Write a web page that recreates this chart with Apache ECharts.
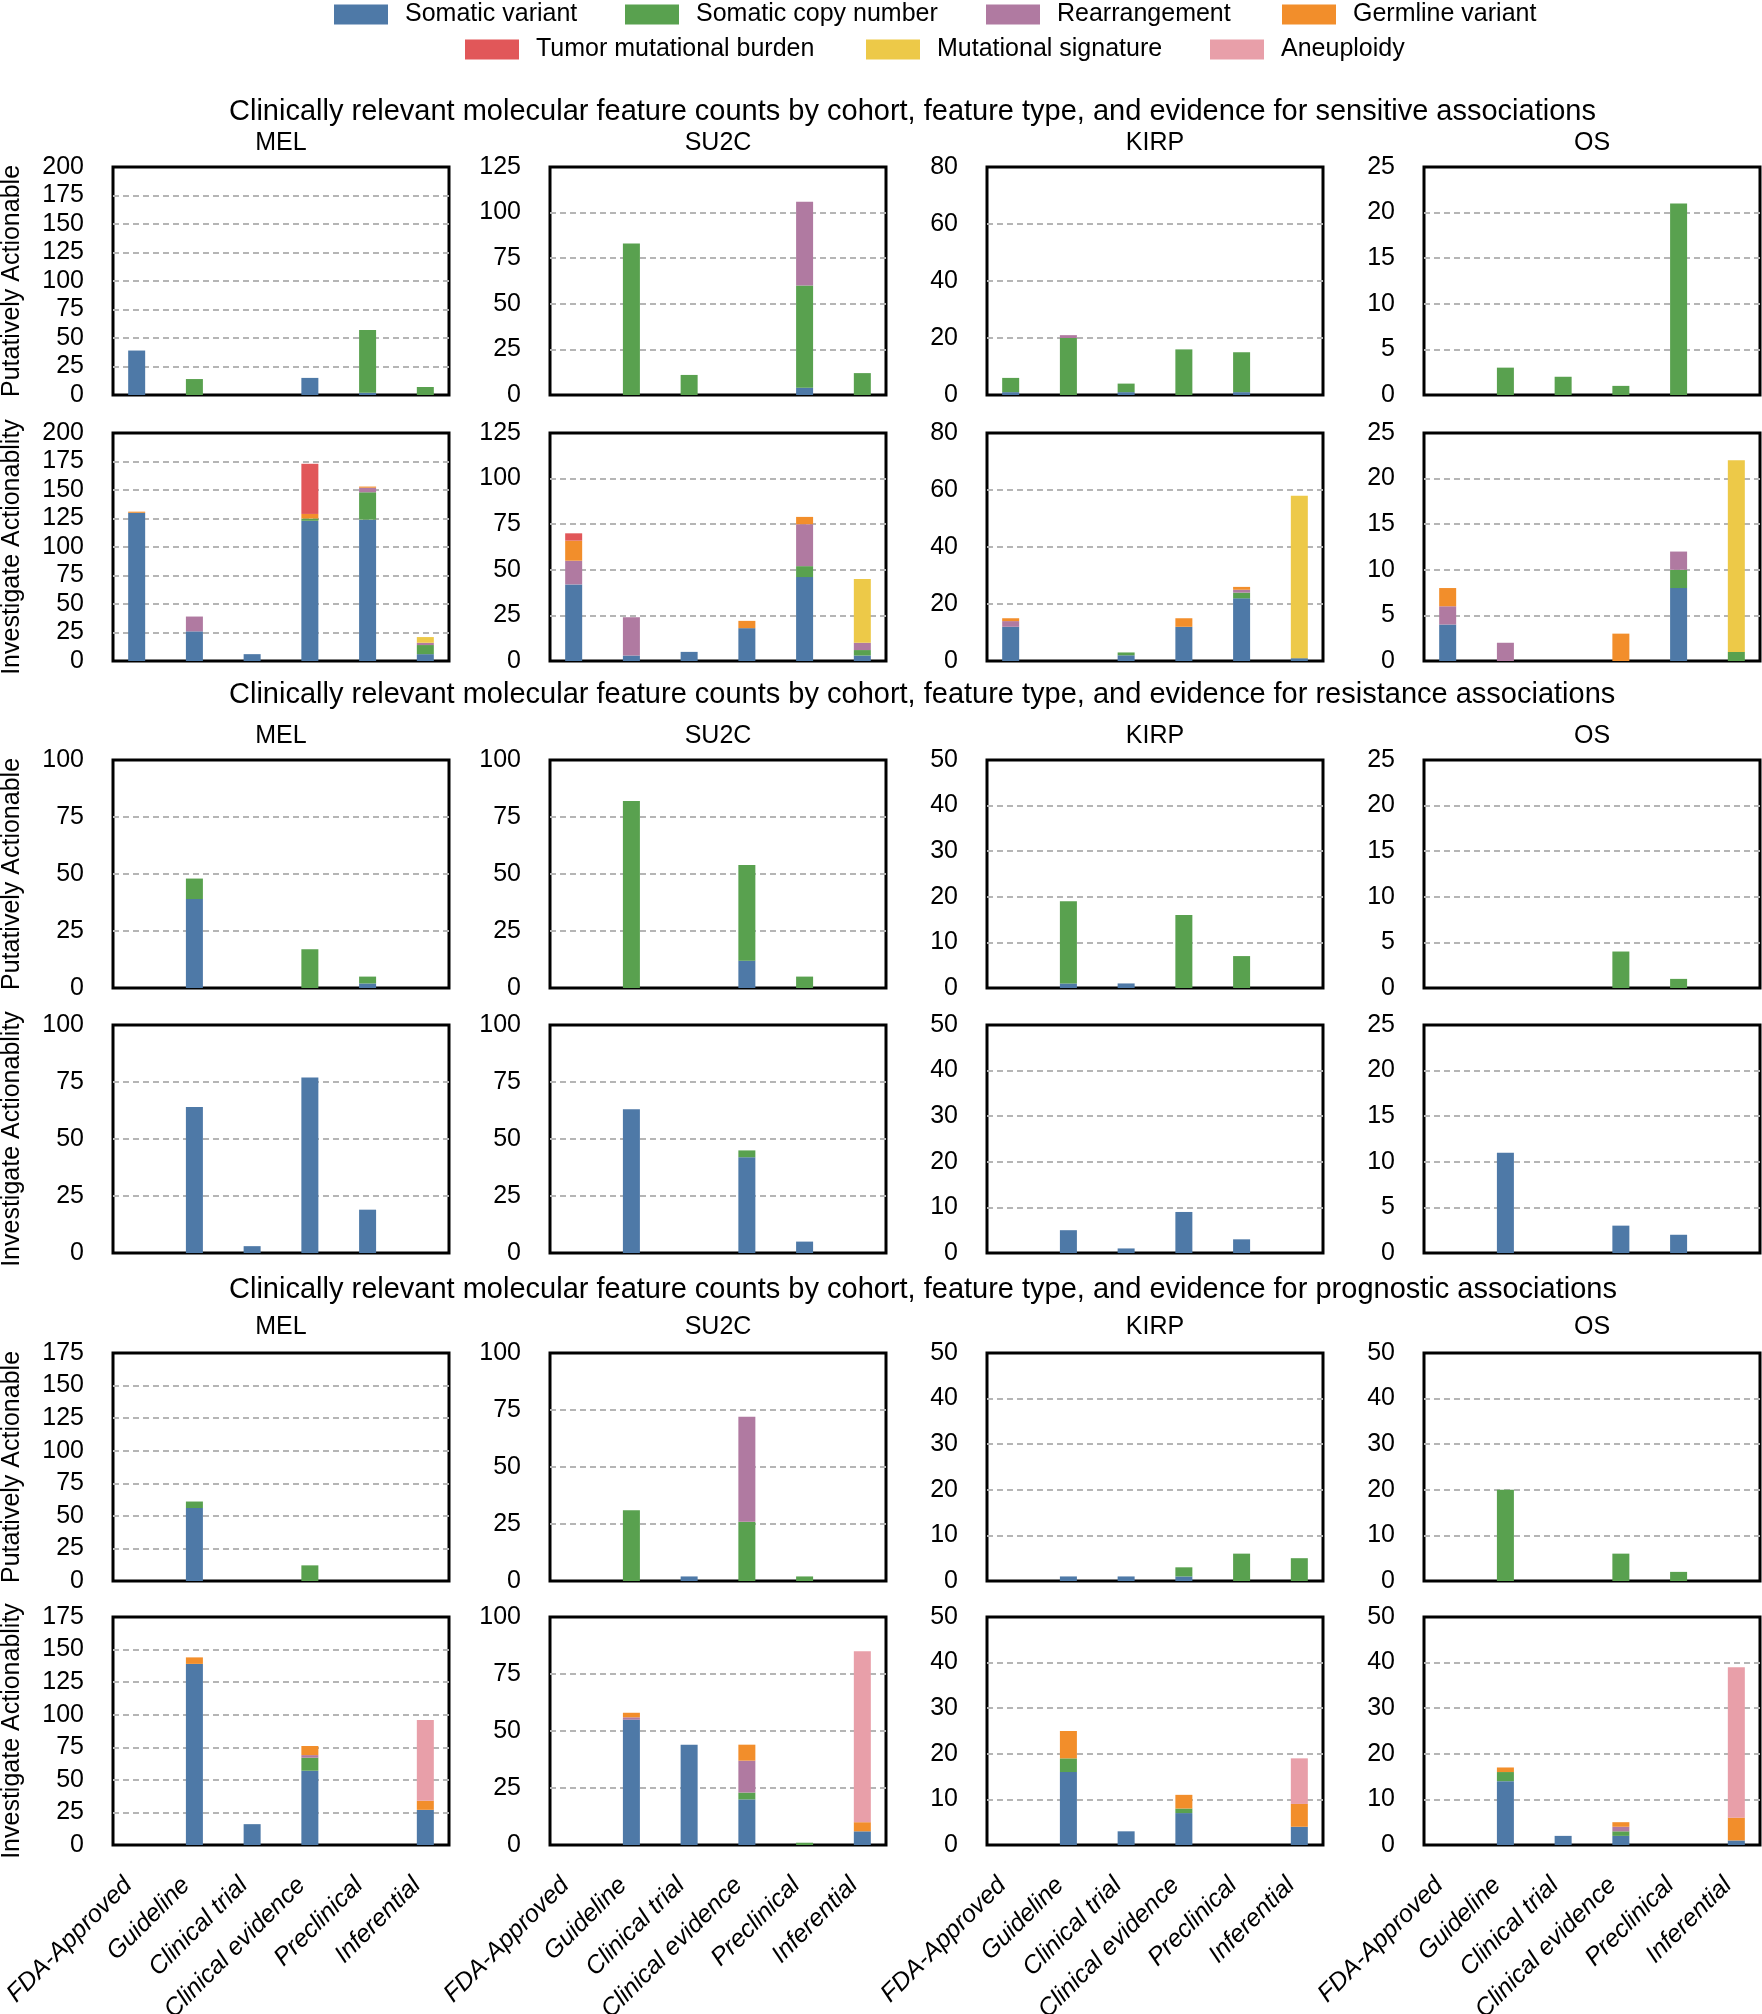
<!DOCTYPE html>
<html>
<head>
<meta charset="utf-8">
<script src="https://cdn.jsdelivr.net/npm/echarts@6/dist/echarts.min.js"></script>
<style>html,body{margin:0;padding:0;background:#fff;}#c{width:1762px;height:2014px;}</style>
</head>
<body>
<div id="c"></div>
<script>
// ---------------- DATA ----------------
const categories = ['FDA-Approved', 'Guideline', 'Clinical trial', 'Clinical evidence', 'Preclinical', 'Inferential'];
const featureTypes = ['Somatic variant', 'Somatic copy number', 'Rearrangement', 'Germline variant',
  'Tumor mutational burden', 'Mutational signature', 'Aneuploidy'];
const cohorts = ['MEL', 'SU2C', 'KIRP', 'OS'];
const associations = ['sensitive', 'resistance', 'prognostic'];
const rowLabels = ['Putatively Actionable', 'Investigate Actionablity'];

// y-axis ticks per cohort (max, step) for each association block
const yMaxSens = [200, 125, 80, 25];  const yStepSens = [25, 25, 20, 5];
const yMaxRes  = [100, 100, 50, 25];  const yStepRes  = [25, 25, 10, 5];
const yMaxProg = [175, 100, 50, 50];  const yStepProg = [25, 25, 10, 10];

// Each panel: 7 rows (feature types, legend order) x 6 columns (categories)
const sens_PA_MEL = [
  [39, 0, 0, 15, 2, 0], [0, 14, 0, 0, 55, 7], [0, 0, 0, 0, 0, 0], [0, 0, 0, 0, 0, 0],
  [0, 0, 0, 0, 0, 0], [0, 0, 0, 0, 0, 0], [0, 0, 0, 0, 0, 0]];
const sens_PA_SU2C = [
  [0, 0, 0, 0, 4, 0], [0, 83, 11, 0, 56, 12], [0, 0, 0, 0, 46, 0], [0, 0, 0, 0, 0, 0],
  [0, 0, 0, 0, 0, 0], [0, 0, 0, 0, 0, 0], [0, 0, 0, 0, 0, 0]];
const sens_PA_KIRP = [
  [1, 0, 1, 0, 1, 0], [5, 20, 3, 16, 14, 0], [0, 1, 0, 0, 0, 0], [0, 0, 0, 0, 0, 0],
  [0, 0, 0, 0, 0, 0], [0, 0, 0, 0, 0, 0], [0, 0, 0, 0, 0, 0]];
const sens_PA_OS = [
  [0, 0, 0, 0, 0, 0], [0, 3, 2, 1, 21, 0], [0, 0, 0, 0, 0, 0], [0, 0, 0, 0, 0, 0],
  [0, 0, 0, 0, 0, 0], [0, 0, 0, 0, 0, 0], [0, 0, 0, 0, 0, 0]];

const sens_IA_MEL = [
  [130, 26, 6, 123, 124, 6], [0, 0, 0, 2, 24, 8], [0, 13, 0, 0, 4, 2], [1, 0, 0, 4, 1, 0],
  [0, 0, 0, 44, 0, 0], [0, 0, 0, 0, 0, 5], [0, 0, 0, 0, 0, 0]];
const sens_IA_SU2C = [
  [42, 3, 5, 18, 46, 3], [0, 0, 0, 0, 6, 3], [13, 21, 0, 0, 23, 4], [11, 0, 0, 4, 4, 0],
  [4, 0, 0, 0, 0, 0], [0, 0, 0, 0, 0, 35], [0, 0, 0, 0, 0, 0]];
const sens_IA_KIRP = [
  [12, 0, 2, 12, 22, 1], [0, 0, 1, 0, 2, 0], [2, 0, 0, 0, 1, 0], [1, 0, 0, 3, 1, 0],
  [0, 0, 0, 0, 0, 0], [0, 0, 0, 0, 0, 57], [0, 0, 0, 0, 0, 0]];
const sens_IA_OS = [
  [4, 0, 0, 0, 8, 0], [0, 0, 0, 0, 2, 1], [2, 2, 0, 0, 2, 0], [2, 0, 0, 3, 0, 0],
  [0, 0, 0, 0, 0, 0], [0, 0, 0, 0, 0, 21], [0, 0, 0, 0, 0, 0]];

const res_PA_MEL = [
  [0, 39, 0, 0, 2, 0], [0, 9, 0, 17, 3, 0], [0, 0, 0, 0, 0, 0], [0, 0, 0, 0, 0, 0],
  [0, 0, 0, 0, 0, 0], [0, 0, 0, 0, 0, 0], [0, 0, 0, 0, 0, 0]];
const res_PA_SU2C = [
  [0, 0, 0, 12, 0, 0], [0, 82, 0, 42, 5, 0], [0, 0, 0, 0, 0, 0], [0, 0, 0, 0, 0, 0],
  [0, 0, 0, 0, 0, 0], [0, 0, 0, 0, 0, 0], [0, 0, 0, 0, 0, 0]];
const res_PA_KIRP = [
  [0, 1, 1, 0, 0, 0], [0, 18, 0, 16, 7, 0], [0, 0, 0, 0, 0, 0], [0, 0, 0, 0, 0, 0],
  [0, 0, 0, 0, 0, 0], [0, 0, 0, 0, 0, 0], [0, 0, 0, 0, 0, 0]];
const res_PA_OS = [
  [0, 0, 0, 0, 0, 0], [0, 0, 0, 4, 1, 0], [0, 0, 0, 0, 0, 0], [0, 0, 0, 0, 0, 0],
  [0, 0, 0, 0, 0, 0], [0, 0, 0, 0, 0, 0], [0, 0, 0, 0, 0, 0]];

const res_IA_MEL = [
  [0, 64, 3, 77, 19, 0], [0, 0, 0, 0, 0, 0], [0, 0, 0, 0, 0, 0], [0, 0, 0, 0, 0, 0],
  [0, 0, 0, 0, 0, 0], [0, 0, 0, 0, 0, 0], [0, 0, 0, 0, 0, 0]];
const res_IA_SU2C = [
  [0, 63, 0, 42, 5, 0], [0, 0, 0, 3, 0, 0], [0, 0, 0, 0, 0, 0], [0, 0, 0, 0, 0, 0],
  [0, 0, 0, 0, 0, 0], [0, 0, 0, 0, 0, 0], [0, 0, 0, 0, 0, 0]];
const res_IA_KIRP = [
  [0, 5, 1, 9, 3, 0], [0, 0, 0, 0, 0, 0], [0, 0, 0, 0, 0, 0], [0, 0, 0, 0, 0, 0],
  [0, 0, 0, 0, 0, 0], [0, 0, 0, 0, 0, 0], [0, 0, 0, 0, 0, 0]];
const res_IA_OS = [
  [0, 11, 0, 3, 2, 0], [0, 0, 0, 0, 0, 0], [0, 0, 0, 0, 0, 0], [0, 0, 0, 0, 0, 0],
  [0, 0, 0, 0, 0, 0], [0, 0, 0, 0, 0, 0], [0, 0, 0, 0, 0, 0]];

const prog_PA_MEL = [
  [0, 56, 0, 0, 0, 0], [0, 5, 0, 12, 0, 0], [0, 0, 0, 0, 0, 0], [0, 0, 0, 0, 0, 0],
  [0, 0, 0, 0, 0, 0], [0, 0, 0, 0, 0, 0], [0, 0, 0, 0, 0, 0]];
const prog_PA_SU2C = [
  [0, 0, 2, 0, 0, 0], [0, 31, 0, 26, 2, 0], [0, 0, 0, 46, 0, 0], [0, 0, 0, 0, 0, 0],
  [0, 0, 0, 0, 0, 0], [0, 0, 0, 0, 0, 0], [0, 0, 0, 0, 0, 0]];
const prog_PA_KIRP = [
  [0, 1, 1, 1, 0, 0], [0, 0, 0, 2, 6, 5], [0, 0, 0, 0, 0, 0], [0, 0, 0, 0, 0, 0],
  [0, 0, 0, 0, 0, 0], [0, 0, 0, 0, 0, 0], [0, 0, 0, 0, 0, 0]];
const prog_PA_OS = [
  [0, 0, 0, 0, 0, 0], [0, 20, 0, 6, 2, 0], [0, 0, 0, 0, 0, 0], [0, 0, 0, 0, 0, 0],
  [0, 0, 0, 0, 0, 0], [0, 0, 0, 0, 0, 0], [0, 0, 0, 0, 0, 0]];

const prog_IA_MEL = [
  [0, 139, 16, 57, 0, 27], [0, 0, 0, 10, 0, 0], [0, 0, 0, 2, 0, 0], [0, 5, 0, 7, 0, 7],
  [0, 0, 0, 0, 0, 0], [0, 0, 0, 0, 0, 0], [0, 0, 0, 0, 0, 62]];
const prog_IA_SU2C = [
  [0, 55, 44, 20, 0, 6], [0, 0, 0, 3, 1, 0], [0, 1, 0, 14, 0, 0], [0, 2, 0, 7, 0, 4],
  [0, 0, 0, 0, 0, 0], [0, 0, 0, 0, 0, 0], [0, 0, 0, 0, 0, 75]];
const prog_IA_KIRP = [
  [0, 16, 3, 7, 0, 4], [0, 3, 0, 1, 0, 0], [0, 0, 0, 0, 0, 0], [0, 6, 0, 3, 0, 5],
  [0, 0, 0, 0, 0, 0], [0, 0, 0, 0, 0, 0], [0, 0, 0, 0, 0, 10]];
const prog_IA_OS = [
  [0, 14, 2, 2, 0, 1], [0, 2, 0, 1, 0, 0], [0, 0, 0, 1, 0, 0], [0, 1, 0, 1, 0, 5],
  [0, 0, 0, 0, 0, 0], [0, 0, 0, 0, 0, 0], [0, 0, 0, 0, 0, 33]];

// ---------------- LAYOUT / STYLE ----------------
const colors = ['#4e79a7', '#59a14f', '#b07aa1', '#f28e2b', '#e15759', '#edc948', '#e89fa9'];
const FONT = '"Liberation Sans", Arial, Helvetica, sans-serif';
const colLeft = [113, 550, 987, 1424];
const panelW = 336;
const rowTop = [167, 433, 760, 1025, 1353, 1617];
const panelH = 228;
const sectionTitleY = [112, 695, 1290];
const panelTitleY = [143, 736, 1327];
const legendX = [334, 625, 986, 1282, 465, 866, 1210];
const legendY = [2, 2, 2, 2, 37, 37, 37];

const panelRows = [
  [sens_PA_MEL, sens_PA_SU2C, sens_PA_KIRP, sens_PA_OS],
  [sens_IA_MEL, sens_IA_SU2C, sens_IA_KIRP, sens_IA_OS],
  [res_PA_MEL, res_PA_SU2C, res_PA_KIRP, res_PA_OS],
  [res_IA_MEL, res_IA_SU2C, res_IA_KIRP, res_IA_OS],
  [prog_PA_MEL, prog_PA_SU2C, prog_PA_KIRP, prog_PA_OS],
  [prog_IA_MEL, prog_IA_SU2C, prog_IA_KIRP, prog_IA_OS]
];
const yMaxRows = [yMaxSens, yMaxSens, yMaxRes, yMaxRes, yMaxProg, yMaxProg];
const yStepRows = [yStepSens, yStepSens, yStepRes, yStepRes, yStepProg, yStepProg];

const grids = [], xAxes = [], yAxes = [], series = [], graphics = [];

for (let r = 0; r < 6; r++) {
  for (let c = 0; c < 4; c++) {
    const idx = r * 4 + c;
    grids.push({
      left: colLeft[c], top: rowTop[r], width: panelW, height: panelH,
      containLabel: false, outerBoundsMode: 'none',
      show: true, borderColor: '#000', borderWidth: 3, backgroundColor: 'transparent'
    });
    xAxes.push({
      gridIndex: idx, type: 'value', min: -0.41, max: 5.41,
      axisLine: { show: false }, axisTick: { show: false }, splitLine: { show: false },
      axisLabel: r === 5 ? {
        show: true, customValues: [0, 1, 2, 3, 4, 5],
        formatter: v => categories[Math.round(v)],
        rotate: 45, fontStyle: 'italic', fontSize: 25, color: '#000', fontFamily: FONT,
        margin: 28, padding: [0, 12, 0, 0]
      } : { show: false }
    });
    yAxes.push({
      gridIndex: idx, type: 'value', min: 0, max: yMaxRows[r][c], interval: yStepRows[r][c],
      axisLine: { show: false }, axisTick: { show: false },
      splitLine: {
        show: true, showMinLine: false, showMaxLine: false,
        lineStyle: { color: '#b5b5b5', width: 1.8, type: [6, 4] }
      },
      axisLabel: { fontSize: 25, color: '#000', fontFamily: FONT, margin: 29 }
    });
    const panel = panelRows[r][c];
    panel.forEach((vals, s) => {
      if (vals.every(v => v === 0)) return;
      series.push({
        type: 'bar', name: featureTypes[s], xAxisIndex: idx, yAxisIndex: idx,
        stack: 'p' + idx, barWidth: 17,
        encode: { x: 1, y: 0 },
        itemStyle: { color: colors[s] },
        emphasis: { disabled: true },
        data: vals.map((v, i) => [v, i])
      });
    });
  }
}

// section titles
associations.forEach((a, k) => {
  graphics.push({
    type: 'text', x: 229, y: sectionTitleY[k],
    style: {
      text: 'Clinically relevant molecular feature counts by cohort, feature type, and evidence for ' + a + ' associations',
      fontSize: 29, fontFamily: FONT, fill: '#000',
      align: 'left', verticalAlign: 'middle', textAlign: 'left', textVerticalAlign: 'middle'
    }
  });
  cohorts.forEach((co, c) => {
    graphics.push({
      type: 'text', x: colLeft[c] + panelW / 2, y: panelTitleY[k],
      style: {
        text: co, fontSize: 25, fontFamily: FONT, fill: '#000',
        align: 'center', verticalAlign: 'middle', textAlign: 'center', textVerticalAlign: 'middle'
      }
    });
  });
});
// row labels
for (let r = 0; r < 6; r++) {
  graphics.push({
    type: 'text', x: 12, y: rowTop[r] + panelH / 2, rotation: Math.PI / 2,
    style: {
      text: rowLabels[r % 2], fontSize: 25, fontFamily: FONT, fill: '#000',
      align: 'center', verticalAlign: 'middle', textAlign: 'center', textVerticalAlign: 'middle'
    }
  });
}

const legends = featureTypes.map((n, i) => ({
  data: [n], left: legendX[i], top: legendY[i], padding: 0,
  itemWidth: 54, itemHeight: 20, icon: 'rect', itemGap: 0, selectedMode: false,
  textStyle: { fontSize: 25, color: '#000', fontFamily: FONT, padding: [0, 0, 0, 12] }
}));

const chart = echarts.init(document.getElementById('c'), null, { renderer: 'canvas', width: 1762, height: 2014 });
chart.setOption({
  animation: false,
  backgroundColor: '#fff',
  legend: legends,
  grid: grids,
  xAxis: xAxes,
  yAxis: yAxes,
  series: series,
  graphic: { elements: graphics }
});
</script>
</body>
</html>
